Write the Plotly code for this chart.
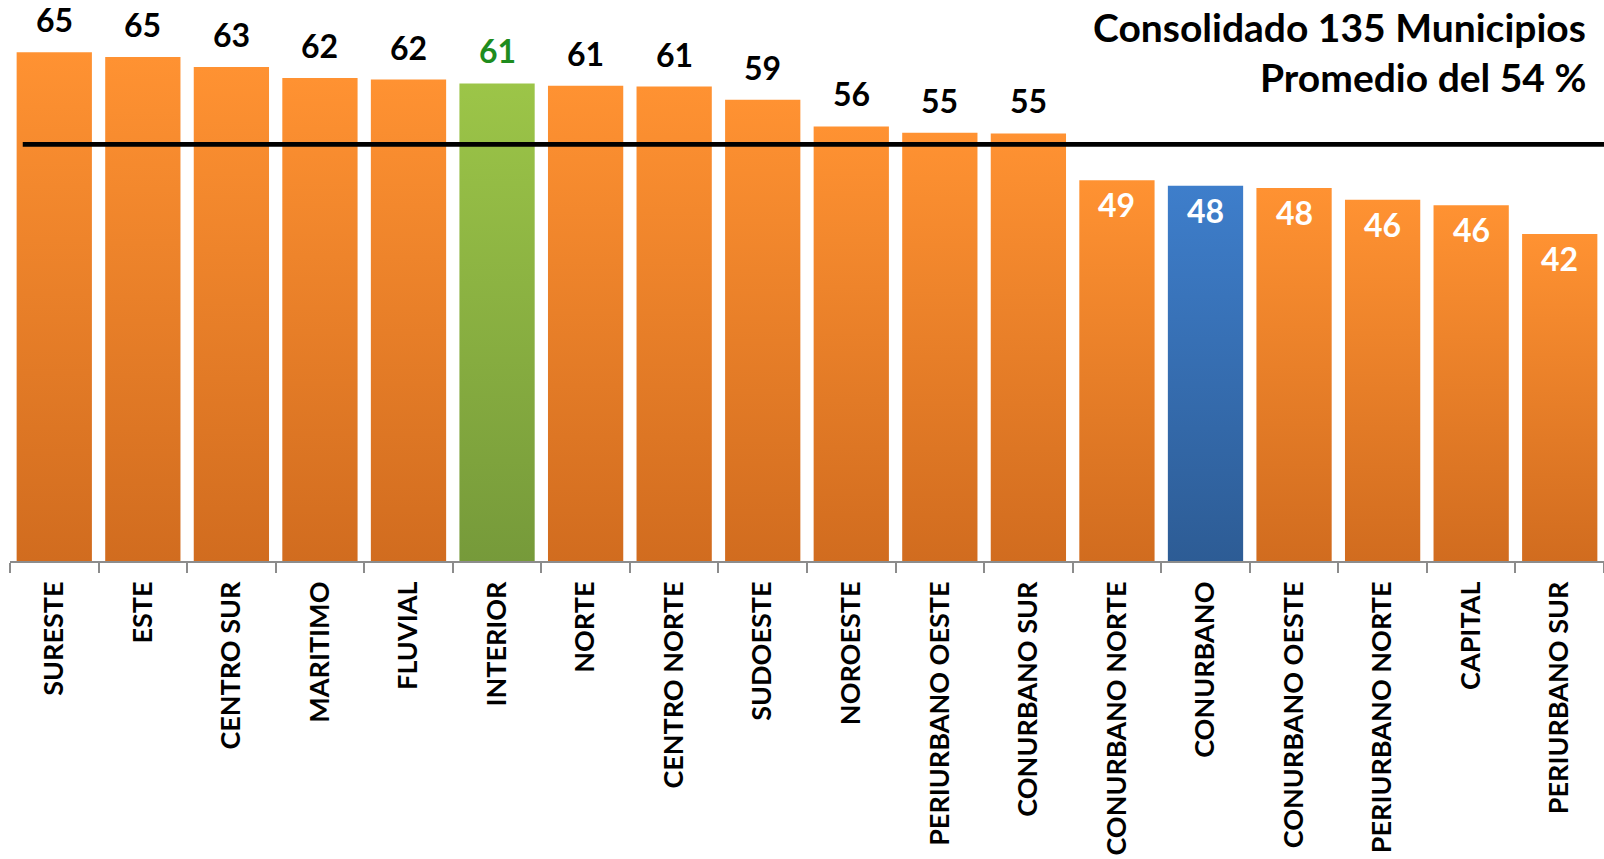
import plotly.graph_objects as go

categories = ["SURESTE", "ESTE", "CENTRO SUR", "MARITIMO", "FLUVIAL", "INTERIOR",
              "NORTE", "CENTRO NORTE", "SUDOESTE", "NOROESTE", "PERIURBANO OESTE",
              "CONURBANO SUR", "CONURBANO NORTE", "CONURBANO", "CONURBANO OESTE",
              "PERIURBANO NORTE", "CAPITAL", "PERIURBANO SUR"]
values = [65.2, 64.6, 63.3, 61.9, 61.7, 61.2, 60.9, 60.8, 59.1, 55.7, 54.9, 54.8,
          48.8, 48.1, 47.8, 46.3, 45.6, 41.9]
labels = [65, 65, 63, 62, 62, 61, 61, 61, 59, 56, 55, 55, 49, 48, 48, 46, 46, 42]
average_line = 53.4
title_lines = ["Consolidado 135 Municipios", "Promedio del 54 %"]

ORANGE = ("#D16C1F", "#FF9232")
GREEN = ("#769A3A", "#9CC548")
BLUE = ("#2D5C95", "#3E7ECB")
FONT = "Lato"

def bar_colors(cat):
    if cat == "INTERIOR":
        return GREEN
    if cat == "CONURBANO":
        return BLUE
    return ORANGE

half = 0.425
fig = go.Figure()
for i, (cat, v) in enumerate(zip(categories, values)):
    dark, light = bar_colors(cat)
    fig.add_trace(go.Scatter(
        x=[i - half, i + half, i + half, i - half, i - half],
        y=[0, 0, v, v, 0],
        mode="lines", line=dict(width=0, color=light),
        fill="toself",
        fillgradient=dict(type="vertical", start=0, stop=v,
                          colorscale=[[0, dark], [1, light]]),
        hoverinfo="text", text=f"{cat}: {labels[i]}",
        showlegend=False,
    ))

annotations = []
for i, (cat, v, lab) in enumerate(zip(categories, values, labels)):
    if v > average_line:
        color = "#1E8C1E" if cat == "INTERIOR" else "#000000"
        annotations.append(dict(x=i, y=v, xref="x", yref="y", text=f"<b>{lab}</b>",
                                showarrow=False, yanchor="bottom", yshift=11,
                                font=dict(family=FONT, size=32, color=color)))
    else:
        annotations.append(dict(x=i, y=v, xref="x", yref="y", text=f"<b>{lab}</b>",
                                showarrow=False, yanchor="top", yshift=-3,
                                font=dict(family=FONT, size=32, color="#FFFFFF")))

annotations.append(dict(x=1, y=1, xref="paper", yref="paper", text=f"<b>{title_lines[0]}</b>",
                        showarrow=False, xanchor="right", yanchor="top", xshift=-16, yshift=-2,
                        font=dict(family=FONT, size=39, color="#000000")))
annotations.append(dict(x=1, y=1, xref="paper", yref="paper", text=f"<b>{title_lines[1]}</b>",
                        showarrow=False, xanchor="right", yanchor="top", xshift=-16, yshift=-52,
                        font=dict(family=FONT, size=39, color="#000000")))

fig.add_shape(type="line", xref="paper", yref="y", x0=0.008, x1=1.0,
              y0=average_line, y1=average_line,
              line=dict(color="#000000", width=4.6))

fig.update_layout(
    width=1604, height=859,
    margin=dict(l=10, r=0, t=0, b=298),
    paper_bgcolor="white", plot_bgcolor="white",
    annotations=annotations,
    xaxis=dict(
        range=[-0.5, len(categories) - 0.5],
        tickmode="array", tickvals=list(range(len(categories))),
        ticktext=[f"<b>{c}</b>" for c in categories],
        tickangle=-90,
        tickfont=dict(family=FONT, size=27, color="#000000"),
        ticks="outside", ticklen=0, tickcolor="rgba(0,0,0,0)",
        ticklabelstandoff=8,
        showline=True, linecolor="#8C8C8C", linewidth=1.5,
        showgrid=False, zeroline=False, automargin=False,
        minor=dict(tickmode="array",
                   tickvals=[k - 0.5 for k in range(len(categories) + 1)],
                   ticks="outside", ticklen=10, tickcolor="#8C8C8C", tickwidth=1.5,
                   showgrid=False),
        fixedrange=True,
    ),
    yaxis=dict(range=[0, 71.9], visible=False, showgrid=False, zeroline=False,
               fixedrange=True),
)

fig.write_html("out.html", config={"displayModeBar": False},
               post_script="document.body.style.margin='0';document.body.style.overflow='hidden';")
